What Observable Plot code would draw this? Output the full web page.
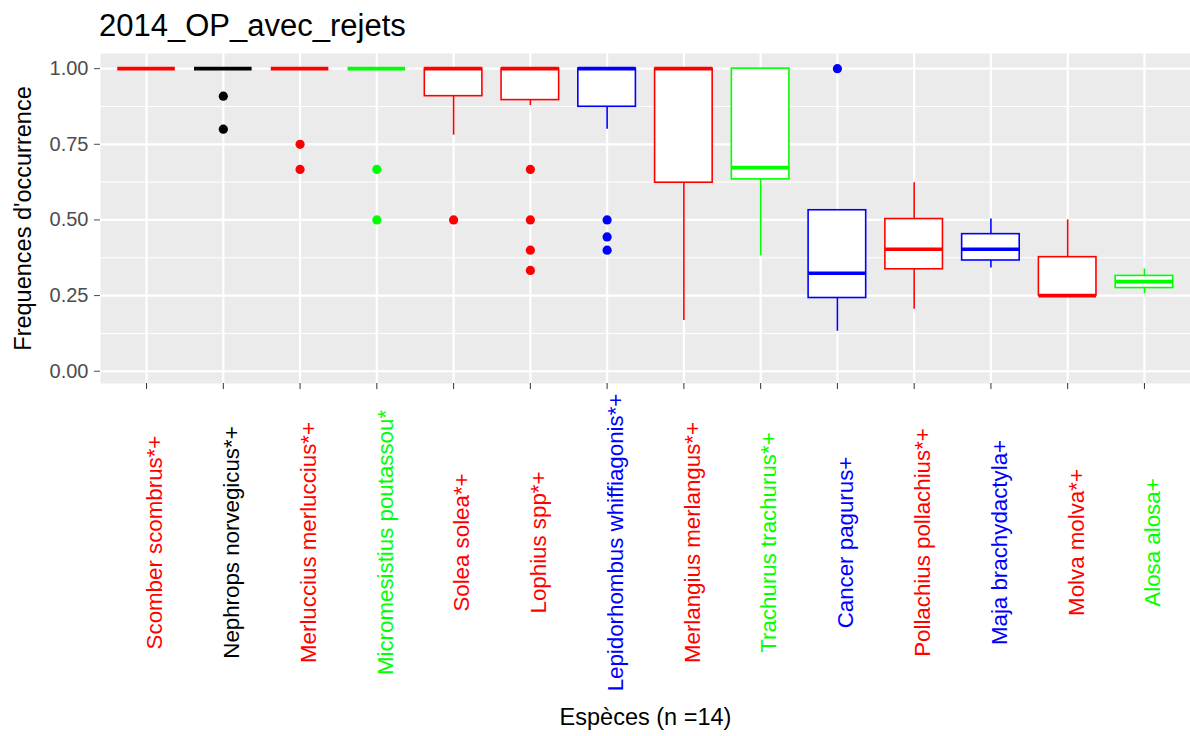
<!DOCTYPE html>
<html>
<head>
<meta charset="utf-8">
<script src="https://cdn.jsdelivr.net/npm/d3@7"></script>
<script src="https://cdn.jsdelivr.net/npm/@observablehq/plot@0.6"></script>
<style>
  html, body { margin: 0; padding: 0; background: white; }
  #title { height: 53px; box-sizing: border-box; padding: 10px 0 0 99px; font-family: "Liberation Sans", Arial, sans-serif; font-size: 31px; line-height: 1; color: #000; }
  #chart svg { display: block; }
</style>
</head>
<body>
<div id="title">2014_OP_avec_rejets</div>
<div id="chart"></div>
<script>
const species = [
  "Scomber scombrus*+", "Nephrops norvegicus*+", "Merluccius merluccius*+",
  "Micromesistius poutassou*", "Solea solea*+", "Lophius spp*+",
  "Lepidorhombus whiffiagonis*+", "Merlangius merlangus*+", "Trachurus trachurus*+",
  "Cancer pagurus+", "Pollachius pollachius*+", "Maja brachydactyla+",
  "Molva molva*+", "Alosa alosa+"
];
const colors = ["#FF0000", "#000000", "#FF0000", "#00FF00", "#FF0000", "#FF0000",
  "#0000FF", "#FF0000", "#00FF00", "#0000FF", "#FF0000", "#0000FF", "#FF0000", "#00FF00"];

const lowerWhisker = [1, 1, 1, 1, 0.78, 0.878, 0.80, 0.168, 0.381, 0.132, 0.205, 0.341, 0.25, 0.256];
const q1           = [1, 1, 1, 1, 0.909, 0.896, 0.874, 0.623, 0.634, 0.242, 0.337, 0.366, 0.25, 0.275];
const median       = [1, 1, 1, 1, 1, 1, 1, 1, 0.673, 0.324, 0.403, 0.403, 0.25, 0.296];
const q3           = [1, 1, 1, 1, 1, 1, 1, 1, 1, 0.532, 0.503, 0.453, 0.377, 0.315];
const upperWhisker = [1, 1, 1, 1, 1, 1, 1, 1, 1, 0.532, 0.623, 0.503, 0.50, 0.338];

const outlierSpecies = [1, 1, 2, 2, 3, 3, 4, 5, 5, 5, 5, 6, 6, 6, 9];
const outlierValues  = [0.909, 0.80, 0.75, 0.667, 0.667, 0.50, 0.50, 0.667, 0.50, 0.40, 0.333, 0.50, 0.444, 0.40, 1.0];

const yTicks = [0, 0.25, 0.5, 0.75, 1];
const yMinor = [0.125, 0.375, 0.625, 0.875];

const boxes = species.map((s, i) => ({
  species: s, color: colors[i],
  lower: lowerWhisker[i], q1: q1[i], median: median[i], q3: q3[i], upper: upperWhisker[i]
}));
const outliers = outlierSpecies.map((k, i) => ({species: species[k], color: colors[k], value: outlierValues[i]}));

const font = "'Liberation Sans', Arial, sans-serif";

const chart = Plot.plot({
  width: 1190,
  height: 683,
  marginTop: 0,
  marginBottom: 353,
  marginLeft: 100,
  marginRight: 0,
  style: {fontFamily: font, fontSize: "20px", background: "white", overflow: "visible"},
  x: {type: "band", domain: species, paddingInner: 0.25, paddingOuter: 0.225, round: false},
  y: {domain: [-0.0405, 1.05]},
  color: {type: "identity"},
  marks: [
    Plot.frame({fill: "#EBEBEB", stroke: null}),
    Plot.ruleY(yMinor, {stroke: "white", strokeWidth: 1}),
    Plot.ruleY(yTicks, {stroke: "white", strokeWidth: 2.2}),
    Plot.ruleX(species, {stroke: "white", strokeWidth: 2.2}),
    Plot.axisY({ticks: yTicks, tickFormat: d3.format(".2f"), tickSize: 6, tickPadding: 6, fontSize: 20, color: "#4d4d4d", label: null}),
    Plot.axisX({tickSize: 6, tickFormat: () => "", color: "#333333", label: null}),
    Plot.ruleX(boxes, {x: "species", y1: "q3", y2: "upper", stroke: "color", strokeWidth: 1.6}),
    Plot.ruleX(boxes, {x: "species", y1: "lower", y2: "q1", stroke: "color", strokeWidth: 1.6}),
    Plot.barY(boxes, {x: "species", y1: "q1", y2: "q3", fill: "white", stroke: "color", strokeWidth: 1.6}),
    Plot.tickY(boxes, {x: "species", y: "median", stroke: "color", strokeWidth: 3.6}),
    Plot.dot(outliers, {x: "species", y: "value", fill: "color", stroke: null, r: 4.6}),
    Plot.text(species, {
      x: d => d, text: d => d, fill: (d, i) => colors[i],
      frameAnchor: "bottom", dy: 159, rotate: -90,
      textAnchor: "middle", lineAnchor: "top", fontSize: 22.3
    }),
    Plot.text(["Frequences d'occurrence"], {
      text: d => d, frameAnchor: "left", dx: -77, rotate: -90,
      textAnchor: "middle", lineAnchor: "middle", fontSize: 23.5, fill: "#000"
    }),
    Plot.text(["Espèces (n =14)"], {
      text: d => d, frameAnchor: "bottom", dy: 333.5,
      textAnchor: "middle", lineAnchor: "middle", fontSize: 23.5, fill: "#000"
    })
  ]
});
document.getElementById("chart").appendChild(chart);
</script>
</body>
</html>
